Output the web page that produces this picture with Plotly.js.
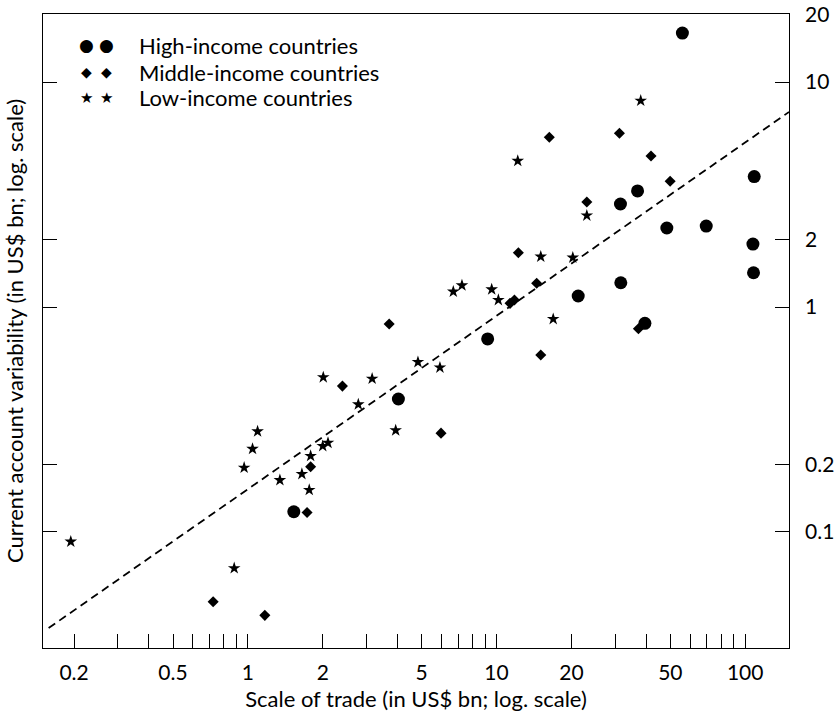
<!DOCTYPE html>
<html>
<head>
<meta charset="utf-8">
<script src="https://cdn.plot.ly/plotly-3.0.1.min.js"></script>
<style>html,body{margin:0;padding:0;background:#fff;}#chart{width:836px;height:716px;}</style>
</head>
<body>
<div id="chart"></div>
<script>
// ---- data ----
const highX = [1.53, 4.03, 9.21, 21.3, 31.6, 31.5, 36.9, 48.4, 69.7, 55.9, 108.7, 107.4, 108, 39.5];
const highY = [0.123, 0.390, 0.721, 1.119, 1.282, 2.87, 3.28, 2.245, 2.29, 16.5, 3.80, 1.905, 1.42, 0.846];

const midX = [0.725, 1.17, 1.73, 1.788, 2.40, 3.70, 5.98, 11.33, 11.8, 12.24, 14.5, 15.06, 16.3, 23.07, 31.2, 37.2, 41.8, 49.9];
const midY = [0.049, 0.0426, 0.122, 0.195, 0.445, 0.840, 0.275, 1.038, 1.074, 1.744, 1.274, 0.612, 5.68, 2.93, 5.92, 0.80, 4.69, 3.62];

const lowX = [0.194, 0.881, 0.966, 1.044, 1.094, 1.345, 1.649, 1.765, 1.788, 2.00, 2.10, 2.01, 2.78, 3.16, 3.93, 4.83, 5.92, 6.70, 7.26, 9.56, 10.17, 12.17, 15.06, 16.9, 20.26, 23.07, 38.0];
const lowY = [0.0906, 0.069, 0.193, 0.234, 0.280, 0.170, 0.181, 0.1537, 0.2177, 0.241, 0.249, 0.487, 0.369, 0.480, 0.283, 0.569, 0.538, 1.17, 1.248, 1.198, 1.074, 4.46, 1.674, 0.884, 1.657, 2.55, 8.26];

// fitted line end points
const fitX = [0.158, 150];
const fitY = [0.0374, 7.36];

const seriesNames = ["High-income countries", "Middle-income countries", "Low-income countries"];

const xTickVals = [0.2,0.3,0.4,0.5,0.6,0.7,0.8,0.9,1,2,3,4,5,6,7,8,9,10,20,30,40,50,60,70,80,90,100];
const xTickLabels = ["0.2","","","0.5","","","","","1","2","","","5","","","","","10","20","","","50","","","","","100"];
const yTickVals = [0.1, 0.2, 1, 2, 10, 20];
const yTickLabels = ["0.1", "0.2", "1", "2", "10", "20"];

const FONT = "Lato, 'Open Sans', sans-serif";

const L = 43, R = 789, T = 14, B = 648, W = 836, H = 716;
const px = v => (v - L) / (R - L);
const py = v => (B - v) / (B - T);
const yRange = [Math.log10(0.0305), Math.log10(20.06)];

const traces = [
  {x: fitX, y: fitY, yaxis: "y2", mode: "lines", line: {color: "#000", width: 1.8, dash: "8px,5px"}, showlegend: false, hoverinfo: "skip"},
  {x: highX, y: highY, name: seriesNames[0], mode: "markers", marker: {symbol: "circle", size: 13, color: "#000"}},
  {x: midX, y: midY, name: seriesNames[1], mode: "markers", marker: {symbol: "diamond", size: 8.5, color: "#000"}},
  {x: lowX, y: lowY, name: seriesNames[2], mode: "markers", marker: {symbol: "star", size: 9.5, color: "#000"}}
];

const legendRows = [45, 72, 98];
const legendGlyphs = ["\u25CF", "\u25C6", "\u2605"];
const glyphSizes = [17, 14, 15];
const glyphCols = [86, 106];
const annotations = [];
for (let i = 0; i < 3; i++) {
  for (const gx of glyphCols) {
    annotations.push({xref: "paper", yref: "paper", x: px(gx), y: py(legendRows[i]), xanchor: "center", yanchor: "middle",
      text: legendGlyphs[i], showarrow: false, font: {family: "DejaVu Sans", size: glyphSizes[i], color: "#000"}});
  }
  annotations.push({xref: "paper", yref: "paper", x: px(137), y: py(legendRows[i]), xanchor: "left", yanchor: "middle",
    text: seriesNames[i], showarrow: false, font: {family: FONT, size: 22, color: "#000"}});
}

const layout = {
  width: W, height: H,
  margin: {l: L, r: W - R, t: T, b: H - B, pad: 0},
  paper_bgcolor: "#fff", plot_bgcolor: "#fff",
  showlegend: false,
  font: {family: FONT, color: "#000", size: 20},
  xaxis: {
    type: "log", range: [Math.log10(0.15), Math.log10(150)],
    tickvals: xTickVals, ticktext: xTickLabels,
    ticks: "inside", ticklen: 14, tickwidth: 1, tickcolor: "#000",
    showline: true, linecolor: "#000", linewidth: 1.3, mirror: true,
    showgrid: false, zeroline: false,
    tickfont: {family: FONT, size: 21, color: "#000"},
    ticklabelstandoff: 5,
    title: {text: "Scale of trade (in US$ bn; log. scale)", font: {family: FONT, size: 22, color: "#000"}, standoff: 9}
  },
  yaxis: {
    type: "log", range: yRange,
    tickvals: yTickVals, ticktext: yTickLabels,
    ticks: "inside", ticklen: 14, tickwidth: 1, tickcolor: "#000",
    showticklabels: false,
    showline: true, linecolor: "#000", linewidth: 1.3, mirror: "ticks",
    showgrid: false, zeroline: false,
    title: {text: "Current account variability (in US$ bn; log. scale)", font: {family: FONT, size: 22, color: "#000"}, standoff: 12}
  },
  yaxis2: {
    type: "log", range: yRange, overlaying: "y", side: "right", anchor: "x",
    tickvals: yTickVals, ticktext: yTickLabels,
    ticks: "", showline: false, showgrid: false, zeroline: false,
    tickfont: {family: FONT, size: 21, color: "#000"},
    ticklabelstandoff: 15
  },
  annotations: annotations
};

Plotly.newPlot("chart", traces, layout, {displayModeBar: false, staticPlot: true});
</script>
</body>
</html>
